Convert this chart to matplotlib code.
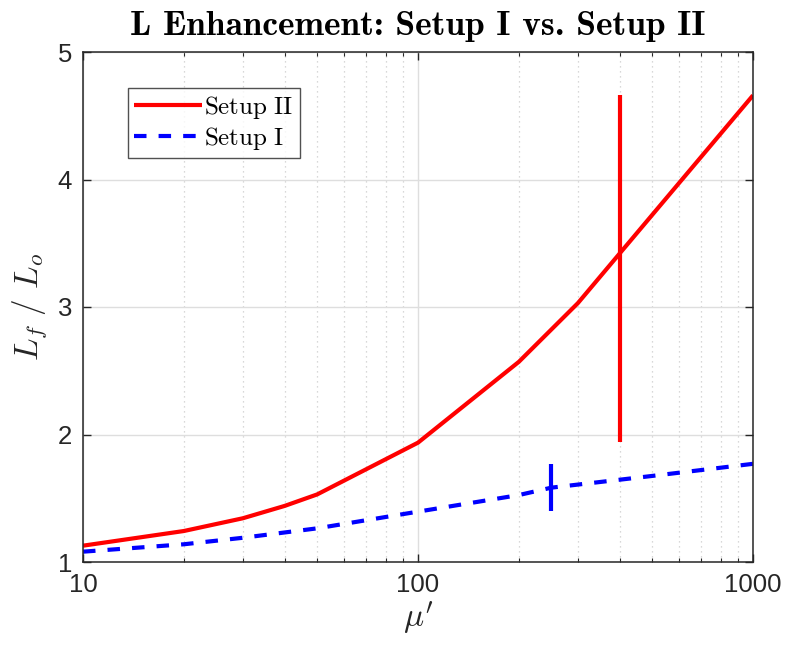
import os
import numpy as np
import matplotlib
matplotlib.use("Agg")
import matplotlib.pyplot as plt
from matplotlib.font_manager import FontProperties
from matplotlib.ticker import LogLocator, NullFormatter, FixedLocator, FixedFormatter

plt.rcParams['mathtext.fontset'] = 'cm'
plt.rcParams['font.family'] = ['Liberation Sans', 'DejaVu Sans']

# Data
mu_II = [10, 20, 30, 40, 50, 100, 200, 300, 400, 1000]
L_II = [1.128, 1.243, 1.343, 1.44, 1.53, 1.936, 2.57, 3.03, 3.42, 4.66]
mu_I = [10, 20, 30, 50, 100, 200, 250, 500, 1000]
L_I = [1.081, 1.139, 1.19, 1.264, 1.395, 1.525, 1.583, 1.675, 1.77]
# vertical markers
mark_II_x = [400, 400]
mark_II_y = [1.94, 4.66]
mark_I_x = [250, 250]
mark_I_y = [1.40, 1.77]

xticks = [10, 100, 1000]
xticklabels = ['10', '100', '1000']
yticks = [1, 2, 3, 4, 5]
title = 'L Enhancement: Setup I vs. Setup II'

fig = plt.figure(figsize=(7.88, 6.5), dpi=100)
ax = fig.add_axes([83/788, 1-562/650, (753-83)/788, (562-52)/650])

ax.plot(mu_II, L_II, color='#ff0000', lw=3, label=r'$\mathrm{Setup\ II}$', solid_capstyle='butt')
ax.plot(mu_I, L_I, color='#0000ff', lw=3, ls=(0, (3.0, 2.9)), label=r'$\mathrm{Setup\ I}$')
ax.plot(mark_II_x, mark_II_y, color='#ff0000', lw=3, solid_capstyle='butt')
ax.plot(mark_I_x, mark_I_y, color='#0000ff', lw=3, solid_capstyle='butt')

ax.set_xscale('log')
ax.set_xlim(10, 1000)
ax.set_ylim(1, 5)
ax.xaxis.set_major_locator(FixedLocator(xticks))
ax.xaxis.set_major_formatter(FixedFormatter(xticklabels))
ax.xaxis.set_minor_locator(LogLocator(base=10, subs=np.arange(2, 10)))
ax.xaxis.set_minor_formatter(NullFormatter())
ax.set_yticks(yticks)
ax.set_yticklabels([str(v) for v in yticks])

ax.grid(True, which='major', color='#dedede', lw=1.0, ls='-')
ax.grid(True, which='minor', axis='x', color='#cccccc', lw=0.9, ls=(0, (1, 3)))
ax.set_axisbelow(True)

ax.tick_params(which='both', direction='in', top=True, right=True, color='#262626', labelcolor='#262626')
ax.tick_params(which='major', length=6, width=1, labelsize=18.5, pad=8)
ax.tick_params(which='minor', length=3, width=0.8)
for s in ax.spines.values():
    s.set_color('#262626')
    s.set_linewidth(1.1)

ax.set_xlabel(r"$\mu'$", fontsize=24, color='#262626', labelpad=2)
ax.set_ylabel(r"$L_f\ /\ L_o$", fontsize=24, color='#262626', labelpad=6)

cmb = os.path.join(matplotlib.get_data_path(), 'fonts', 'ttf', 'cmb10.ttf')
if os.path.exists(cmb):
    tfp = FontProperties(fname=cmb, size=25.5)
else:
    tfp = FontProperties(family='DejaVu Serif', weight='bold', size=21)
ax.set_title(title, fontproperties=tfp, pad=12)

leg = ax.legend(loc='upper left', bbox_to_anchor=(0.067, 0.93), fontsize=18, frameon=True,
                fancybox=False, edgecolor='#262626', handlelength=2.7, handletextpad=0.1,
                borderpad=0.25, labelspacing=0.15, borderaxespad=0)
leg.get_frame().set_linewidth(1.0)

fig.savefig('out.png', dpi=100)
